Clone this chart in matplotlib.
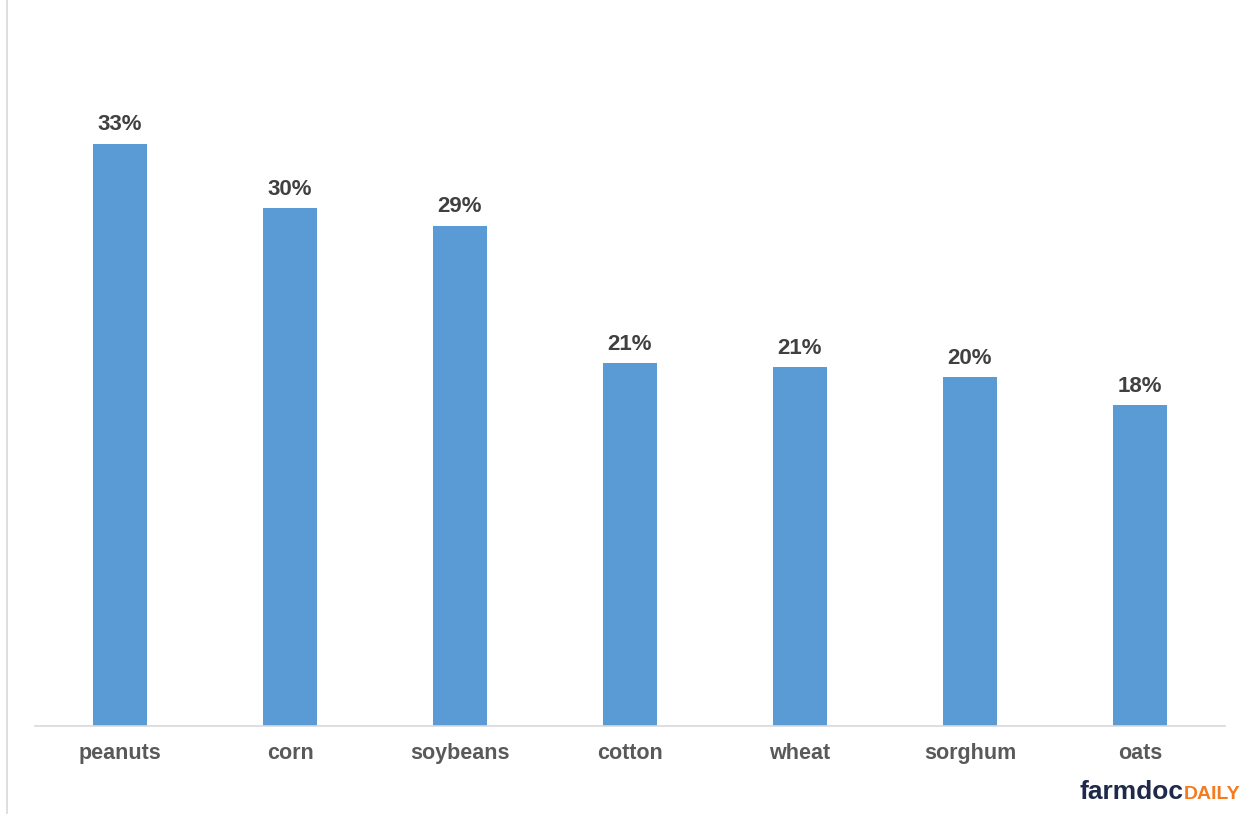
import matplotlib
matplotlib.use('Agg')
import matplotlib.pyplot as plt
from matplotlib.lines import Line2D

plt.rcParams['font.family'] = ['Liberation Sans', 'DejaVu Sans']

# data (percent)
crops = ['peanuts', 'corn', 'soybeans', 'cotton', 'wheat', 'sorghum', 'oats']
shares = [33.4, 29.7, 28.7, 20.8, 20.6, 20.0, 18.4]

BAR_COLOR = '#5b9bd5'
W, H = 1251, 814

fig = plt.figure(figsize=(W / 100, H / 100), dpi=100)
ax = fig.add_axes([35 / W, (H - 726) / H, 1190 / W, 706 / H])

x = range(len(crops))
bars = ax.bar(x, shares, width=0.32, color=BAR_COLOR)
for b, v in zip(bars, shares):
    ax.annotate(f'{v:.0f}%', xy=(b.get_x() + b.get_width() / 2, v),
                xytext=(0, 6), textcoords='offset points',
                ha='center', va='bottom', fontsize=16,
                fontweight='bold', color='#404040')

ax.set_xlim(-0.5, len(crops) - 0.5)
ax.set_ylim(0, 40.5)
ax.set_xticks(list(x))
ax.set_xticklabels(crops, fontsize=15.5, fontweight='bold', color='#595959')
ax.tick_params(axis='x', length=0, pad=12)
ax.set_yticks([])
for s in ['top', 'right', 'left']:
    ax.spines[s].set_visible(False)
ax.spines['bottom'].set_color('#d9d9d9')
ax.spines['bottom'].set_linewidth(1.2)

# thin border line on the left edge
fig.add_artist(Line2D([7 / W, 7 / W], [0, 1], transform=fig.transFigure,
                      color='#d9d9d9', linewidth=1.2))

# logo
fig.text(1183 / W, (H - 799) / H, 'farmdoc', ha='right', va='baseline',
         fontsize=19, fontweight='heavy', color='#1f2a4a')
fig.text(1184 / W, (H - 799) / H, 'DAILY', ha='left', va='baseline',
         fontsize=14, fontweight='heavy', color='#f47b20')

fig.savefig('out.png', dpi=100)
